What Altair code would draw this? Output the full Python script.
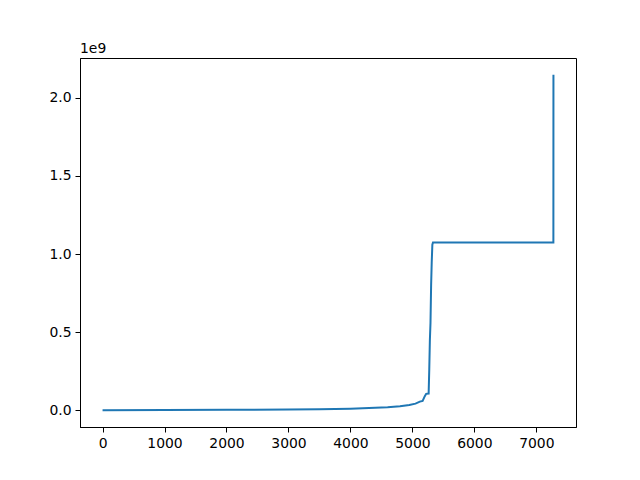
import altair as alt
import pandas as pd

# breakpoints of the sorted series (index, value)
idx = [0, 1000, 2000, 3000, 3500, 4000, 4300, 4600, 4800, 4950, 5050, 5120, 5165,
       5200, 5222, 5262, 5272, 5282, 5292, 5302, 5312, 5322, 5332, 7275, 7276]
vals = [0, 1.0e6, 2.5e6, 5.0e6, 7.0e6, 1.0e7, 1.4e7, 1.9e7, 2.5e7, 3.3e7, 4.2e7, 5.5e7, 6.0e7,
        9.0e7, 1.05e8, 1.07e8, 2.6e8, 4.5e8, 5.6e8, 8.0e8, 9.5e8, 1.06e9, 1.0737e9, 1.0737e9, 2.1475e9]

x_ticks = [0, 1000, 2000, 3000, 4000, 5000, 6000, 7000]
y_ticks = [0, 0.5e9, 1.0e9, 1.5e9, 2.0e9]

df = pd.DataFrame({"i": idx, "v": vals})

FONT = "DejaVu Sans"
FS = 13.9

axis_common = dict(grid=False, domainColor="black", domainWidth=1, tickColor="black",
                   tickWidth=1, tickSize=5, labelFont=FONT, labelFontSize=FS,
                   labelColor="black", labelPadding=4, title=None)

line = alt.Chart(df).mark_line(color="#1f77b4", strokeWidth=2, clip=True).encode(
    x=alt.X("i:Q", scale=alt.Scale(domain=[-364, 7640], nice=False, zero=False),
            axis=alt.Axis(values=x_ticks, format="d", **axis_common)),
    y=alt.Y("v:Q", scale=alt.Scale(domain=[-0.1074e9, 2.2548e9], nice=False, zero=False),
            axis=alt.Axis(values=y_ticks, labelExpr="format(datum.value/1e9, '.1f')", **axis_common)),
)

offset_txt = alt.Chart(pd.DataFrame({"t": ["1e9"]})).mark_text(
    align="left", baseline="alphabetic", font=FONT, fontSize=FS, color="black"
).encode(x=alt.value(0), y=alt.value(-5), text="t:N")

chart = alt.layer(line, offset_txt).properties(
    width=496, height=369,
    background="white",
    autosize=alt.AutoSizeParams(type="none"),
    padding={"left": 72, "top": 50, "right": 56, "bottom": 45},
).configure_view(stroke="black", strokeWidth=1)

chart.save("out.html", embed_options={"renderer": "svg", "actions": False})
